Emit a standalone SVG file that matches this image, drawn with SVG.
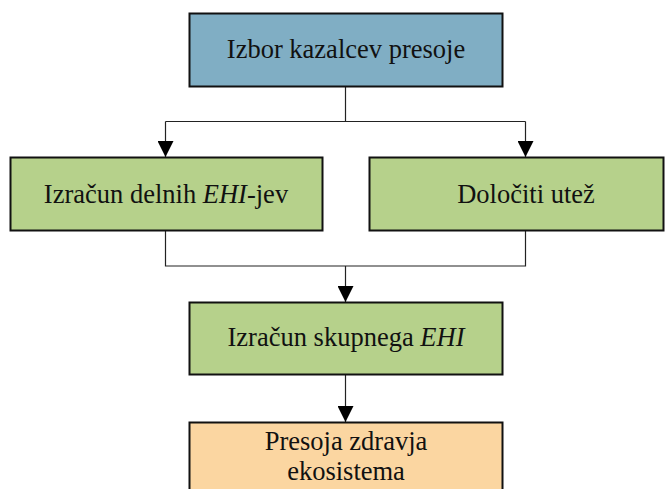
<svg xmlns="http://www.w3.org/2000/svg" width="672" height="489" viewBox="0 0 672 489">
  <defs>
    <marker id="arrow" viewBox="0 0 16 16" refX="16" refY="8" markerWidth="16" markerHeight="16" markerUnits="userSpaceOnUse" orient="auto">
      <path d="M0,0 L16,8 L0,16 Z" fill="#000"/>
    </marker>
  </defs>
  <style>
    .box { stroke: #111; stroke-width: 2; }
    .blue { fill: #80AEC4; }
    .green { fill: #B6D18B; }
    .orange { fill: #FBD6A1; }
    .label { font-family: "Liberation Serif", "Times New Roman", serif; font-size: 26.5px; fill: #111; text-anchor: middle; }
    .conn { fill: none; stroke: #222; stroke-width: 1.2; }
  </style>
  <rect width="672" height="489" fill="#fff"/>

  <!-- connectors -->
  <g id="connectors">
    <polyline class="conn" points="345.5,86 345.5,121.5"/>
    <polyline class="conn" points="165.5,121.5 525.5,121.5"/>
    <polyline class="conn" points="165.5,121.5 165.5,157" marker-end="url(#arrow)"/>
    <polyline class="conn" points="525.5,121.5 525.5,157" marker-end="url(#arrow)"/>
    <polyline class="conn" points="165.5,230 165.5,266 525.5,266 525.5,230"/>
    <polyline class="conn" points="345.5,266 345.5,302" marker-end="url(#arrow)"/>
    <polyline class="conn" points="345.5,374 345.5,422" marker-end="url(#arrow)"/>
  </g>

  <g id="izbor">
    <rect class="box blue" x="189.5" y="13.5" width="313" height="73"/>
    <text class="label" x="346" y="58">Izbor kazalcev presoje</text>
  </g>

  <g id="delni">
    <rect class="box green" x="10.5" y="157.5" width="312" height="73"/>
    <text class="label" x="166" y="203">Izračun delnih <tspan font-style="italic">EHI</tspan>-jev</text>
  </g>

  <g id="utez">
    <rect class="box green" x="369.5" y="157.5" width="294" height="73"/>
    <text class="label" x="526" y="203">Določiti utež</text>
  </g>

  <g id="skupni">
    <rect class="box green" x="189.5" y="302.5" width="313" height="72"/>
    <text class="label" x="346" y="346">Izračun skupnega <tspan font-style="italic">EHI</tspan></text>
  </g>

  <g id="presoja">
    <rect class="box orange" x="189.5" y="422.5" width="313" height="80"/>
    <text class="label" x="346" y="450">Presoja zdravja</text>
    <text class="label" x="346" y="480">ekosistema</text>
  </g>
</svg>
